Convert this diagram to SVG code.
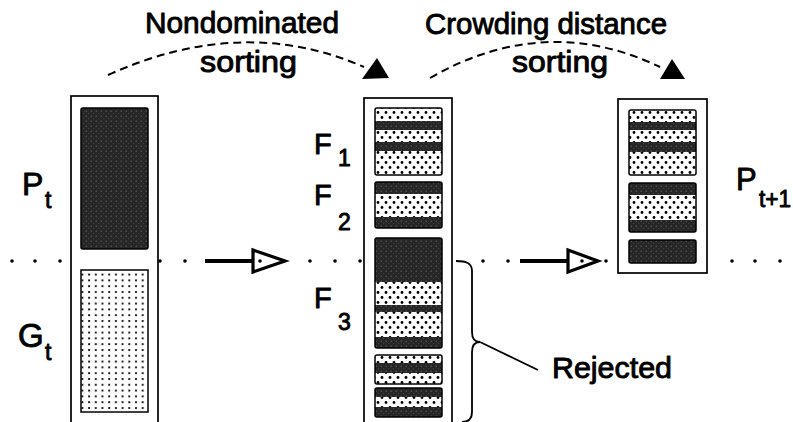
<svg xmlns="http://www.w3.org/2000/svg" width="793" height="422" viewBox="0 0 793 422">
<style>
.box{fill:#fff;stroke:#000;stroke-width:1.7}
.blk{fill:none;stroke:#000;stroke-width:1.5}
.dk{fill:url(#dark)}
.dt{fill:url(#dots)}
.fine{fill:url(#fdots)}
.lbl{font-family:"Liberation Sans",Arial,sans-serif;fill:#000;stroke:#000;stroke-width:0.9;stroke-linejoin:round}
.dash{fill:none;stroke:#000;stroke-width:2;stroke-dasharray:8 5}
.line{fill:none;stroke:#000;stroke-width:1.8}
.arr{fill:none;stroke:#000;stroke-width:4}
.tri{fill:#fff;stroke:#000;stroke-width:3.2;stroke-linejoin:miter}
.dot{fill:#000}
</style>
<defs>
<pattern id="dark" width="5" height="5" patternUnits="userSpaceOnUse">
<rect width="5" height="5" fill="#262626"/>
<circle cx="1.2" cy="1.2" r="0.6" fill="#707070"/>
<circle cx="3.7" cy="3.6" r="0.5" fill="#505050"/>
</pattern>
<pattern id="dots" width="8" height="10" patternUnits="userSpaceOnUse">
<rect width="8" height="10" fill="#fff"/>
<circle cx="2" cy="2.5" r="1.4" fill="#000"/>
<circle cx="6" cy="7.5" r="1.4" fill="#000"/>
</pattern>
<pattern id="fdots" width="6.7" height="5.8" patternUnits="userSpaceOnUse">
<rect width="6.7" height="5.8" fill="#fff"/>
<circle cx="2" cy="2" r="1.1" fill="#000"/>
</pattern>
</defs>
<rect width="793" height="422" fill="#fff"/>

<g id="connectors">
<g id="dotted-line">
<circle class="dot" cx="12" cy="261" r="1.8"/>
<circle class="dot" cx="35" cy="261" r="1.8"/>
<circle class="dot" cx="60" cy="261" r="1.8"/>
<circle class="dot" cx="85" cy="261" r="1.8"/>
<circle class="dot" cx="110" cy="261" r="1.8"/>
<circle class="dot" cx="135" cy="261" r="1.8"/>
<circle class="dot" cx="160" cy="261" r="1.8"/>
<circle class="dot" cx="185" cy="261" r="1.8"/>
<circle class="dot" cx="310" cy="261" r="1.8"/>
<circle class="dot" cx="335" cy="261" r="1.8"/>
<circle class="dot" cx="360" cy="261" r="1.8"/>
<circle class="dot" cx="483" cy="261" r="1.8"/>
<circle class="dot" cx="508" cy="261" r="1.8"/>
<circle class="dot" cx="606" cy="261" r="1.8"/>
<circle class="dot" cx="732" cy="261" r="1.8"/>
<circle class="dot" cx="755" cy="261" r="1.8"/>
<circle class="dot" cx="780" cy="261" r="1.8"/>
</g>
<g id="arrow1">
<line class="arr" x1="205" y1="261" x2="253" y2="261"/>
<polygon class="tri" points="253,250 253,272 285,261"/>
<circle class="dot" cx="260" cy="261" r="1.8"/>
</g>
<g id="arrow2">
<line class="arr" x1="520" y1="261" x2="568" y2="261"/>
<polygon class="tri" points="568,250 568,272 598,261"/>
<circle class="dot" cx="582" cy="261" r="1.8"/>
</g>
<g id="arc1">
<path class="dash" d="M108,75 Q243,14 364,67"/>
<polygon points="362,79 377,58 389,78" fill="#000"/>
</g>
<g id="arc2">
<path class="dash" d="M430,78 Q545,12 660,67"/>
<polygon points="660,79 672,59 685,79" fill="#000"/>
</g>
<g id="brace">
<path class="line" d="M456,261 C466,261 472,263 472,271 L472,332 C472,339 475,342 480,342 C475,342 472,345 472,352 L472,412 C472,419 468,422 462,422"/>
<line class="line" x1="480" y1="342" x2="538" y2="370"/>
</g>
<text class="lbl" x="145" y="33" font-size="29" textLength="194" lengthAdjust="spacingAndGlyphs">Nondominated</text>
<text class="lbl" x="200" y="72" font-size="29" textLength="97" lengthAdjust="spacingAndGlyphs">sorting</text>
<text class="lbl" x="425" y="34" font-size="29" textLength="242" lengthAdjust="spacingAndGlyphs">Crowding distance</text>
<text class="lbl" x="512" y="72" font-size="29" textLength="96" lengthAdjust="spacingAndGlyphs">sorting</text>
<text class="lbl" x="552" y="378" font-size="29" textLength="120" lengthAdjust="spacingAndGlyphs">Rejected</text>
</g>

<g id="pop-left">
<rect class="box" x="71" y="96" width="87" height="340"/>
<rect class="dk" x="81" y="108" width="67" height="141" rx="2"/>
<rect class="blk" x="81" y="108" width="67" height="141" rx="2"/>
<rect class="fine" x="81" y="270" width="67" height="142"/>
<rect class="blk" x="81" y="270" width="67" height="142"/>
<text class="lbl" x="22" y="195" font-size="32">P</text>
<text class="lbl" x="45" y="208" font-size="23">t</text>
<text class="lbl" x="18" y="347" font-size="33">G</text>
<text class="lbl" x="45" y="360" font-size="23">t</text>
</g>

<g id="pop-mid">
<rect class="box" x="364" y="98" width="88" height="340"/>
<g id="F1-block">
<rect class="dt" x="375" y="108" width="67" height="67"/>
<rect class="dk" x="375" y="121" width="67" height="9"/>
<rect class="dk" x="375" y="142" width="67" height="9"/>
<rect class="blk" x="375" y="108" width="67" height="67" rx="2"/>
</g>
<g id="F2-block">
<rect class="dt" x="375" y="182" width="67" height="46"/>
<rect class="dk" x="375" y="182" width="67" height="12"/>
<rect class="dk" x="375" y="217" width="67" height="11"/>
<rect class="blk" x="375" y="182" width="67" height="46" rx="2"/>
</g>
<g id="F3-block">
<rect class="dt" x="375" y="238" width="67" height="110"/>
<rect class="dk" x="375" y="238" width="67" height="44"/>
<rect class="dk" x="375" y="305" width="67" height="7"/>
<rect class="dk" x="375" y="337" width="67" height="11"/>
<rect class="blk" x="375" y="238" width="67" height="110" rx="2"/>
</g>
<g id="block4">
<rect class="dt" x="375" y="355" width="67" height="29"/>
<rect class="dk" x="375" y="363" width="67" height="10"/>
<rect class="blk" x="375" y="355" width="67" height="29" rx="2"/>
</g>
<g id="block5">
<rect class="dt" x="375" y="388" width="67" height="29"/>
<rect class="dk" x="375" y="388" width="67" height="9"/>
<rect class="dk" x="375" y="407" width="67" height="10"/>
<rect class="blk" x="375" y="388" width="67" height="29" rx="2"/>
</g>
<text class="lbl" x="314" y="154" font-size="29">F</text>
<text class="lbl" x="338" y="166" font-size="23">1</text>
<text class="lbl" x="314" y="205" font-size="29">F</text>
<text class="lbl" x="338" y="230" font-size="23">2</text>
<text class="lbl" x="314" y="308" font-size="29">F</text>
<text class="lbl" x="338" y="330" font-size="23">3</text>
</g>

<g id="pop-right">
<rect class="box" x="618" y="99" width="89" height="174"/>
<g>
<rect class="dt" x="629" y="110" width="67" height="65"/>
<rect class="dk" x="629" y="122" width="67" height="8"/>
<rect class="dk" x="629" y="142" width="67" height="10"/>
<rect class="blk" x="629" y="110" width="67" height="65" rx="2"/>
</g>
<g>
<rect class="dt" x="629" y="183" width="67" height="49"/>
<rect class="dk" x="629" y="183" width="67" height="12"/>
<rect class="dk" x="629" y="220" width="67" height="12"/>
<rect class="blk" x="629" y="183" width="67" height="49" rx="2"/>
</g>
<g>
<rect class="dk" x="629" y="240" width="67" height="23"/>
<rect class="blk" x="629" y="240" width="67" height="23" rx="2"/>
</g>
<text class="lbl" x="736" y="190" font-size="31">P</text>
<text class="lbl" x="759" y="207" font-size="23" textLength="32" lengthAdjust="spacingAndGlyphs">t+1</text>
</g>
</svg>
